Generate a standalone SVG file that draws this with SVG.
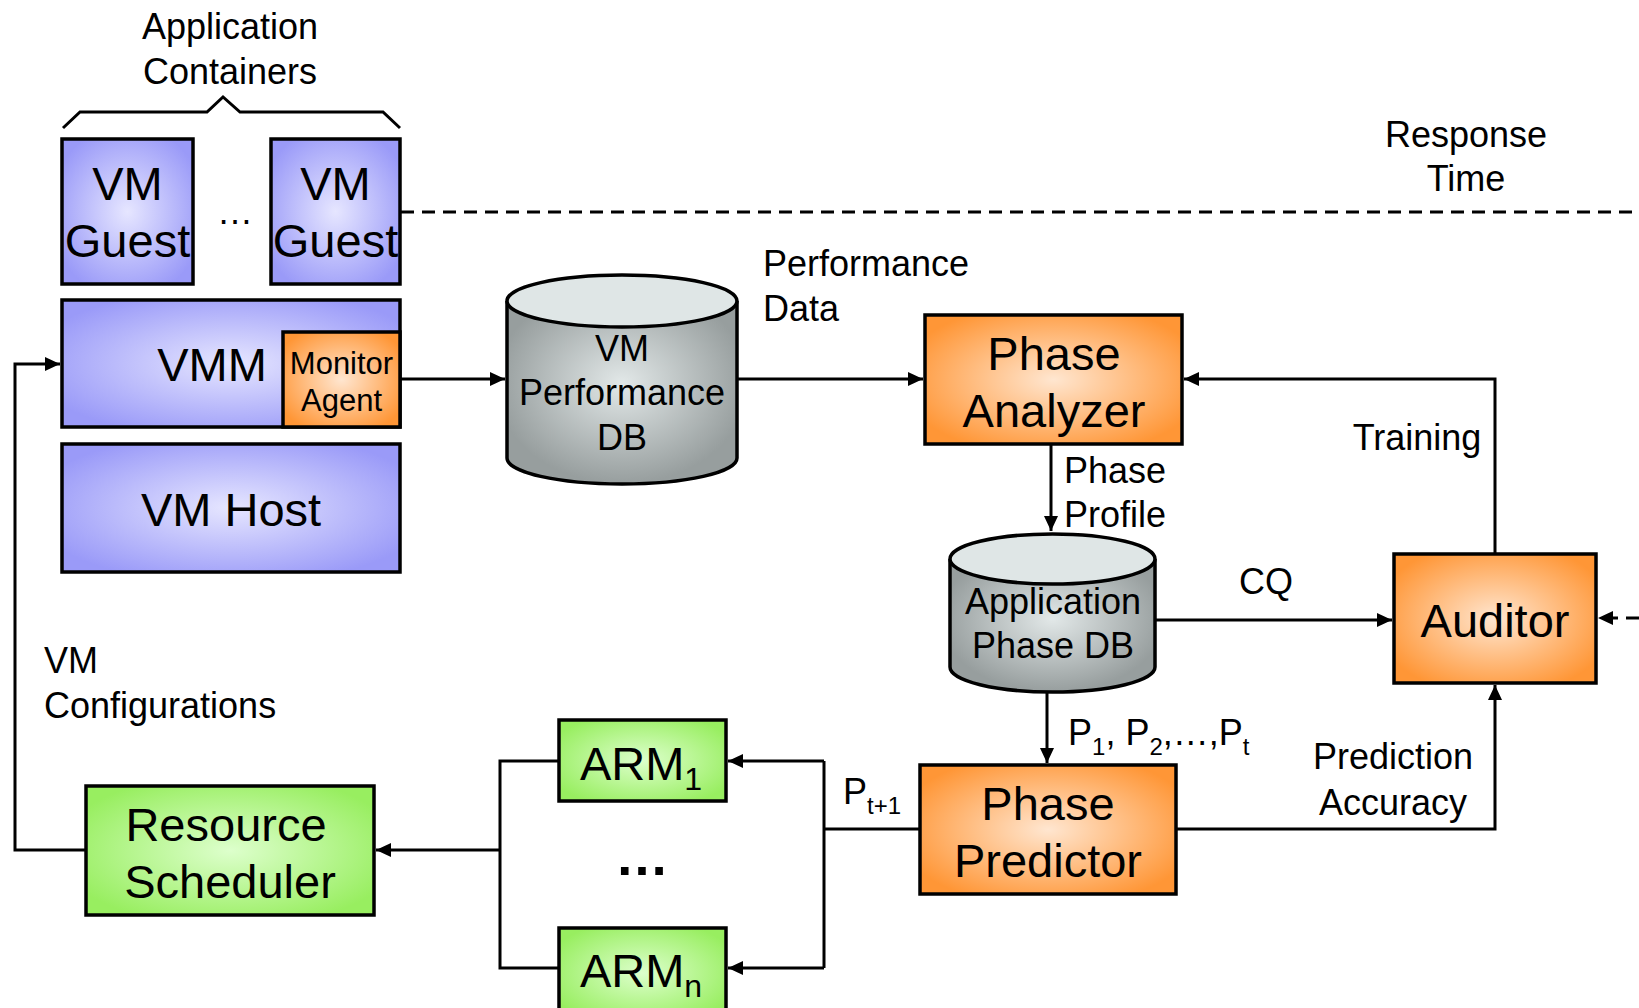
<svg xmlns="http://www.w3.org/2000/svg" width="1639" height="1008" viewBox="0 0 1639 1008">
<style>
text{font-family:"Liberation Sans",Arial,sans-serif;fill:#000}
.n{font-size:47px;text-anchor:middle}
.l{font-size:36px}
.c{text-anchor:middle}
.box{stroke:#000;stroke-width:3.5}
.blue{fill:url(#gb)}
.org{fill:url(#go)}
.grn{fill:url(#gg)}
.cyl{fill:url(#gc);stroke:#000;stroke-width:3.5}
.top{fill:#dfe6e6;stroke:#000;stroke-width:3.5}
.w{fill:none;stroke:#000;stroke-width:3}
.a{marker-end:url(#ah)}
.d{fill:none;stroke:#000;stroke-width:3;stroke-dasharray:13 8}
</style>
<defs>
<radialGradient id="gb" cx="50%" cy="50%" r="60%"><stop offset="0" stop-color="#e6e6ff"/><stop offset="1" stop-color="#9a9af8"/></radialGradient>
<radialGradient id="go" cx="50%" cy="50%" r="60%"><stop offset="0" stop-color="#ffe6d0"/><stop offset="1" stop-color="#ff9636"/></radialGradient>
<radialGradient id="gg" cx="50%" cy="50%" r="60%"><stop offset="0" stop-color="#ddffcc"/><stop offset="1" stop-color="#98ee60"/></radialGradient>
<radialGradient id="gc" cx="50%" cy="45%" r="55%"><stop offset="0" stop-color="#e2e8e8"/><stop offset="1" stop-color="#979e9e"/></radialGradient>
<marker id="ah" markerUnits="userSpaceOnUse" markerWidth="16" markerHeight="14" refX="15" refY="7" orient="auto"><path d="M0,0 L15,7 L0,14 z" fill="#000"/></marker>
</defs>

<g id="connectors">
<path class="w a" d="M86,850 H15 V364 H60"/>
<path class="w a" d="M400,379 H505"/>
<path class="w a" d="M737,379 H923"/>
<path class="w a" d="M1495,554 V379 H1184"/>
<path class="w a" d="M1051,444 V531"/>
<path class="w a" d="M1155,620 H1392"/>
<path class="w a" d="M1047,692 V763"/>
<path class="w a" d="M1176,829 H1495 V685"/>
<path class="w" d="M920,829 H824 M824,761 V968"/>
<path class="w a" d="M824,761 H728"/>
<path class="w a" d="M824,968 H728"/>
<path class="w" d="M559,761 H500 V968 H559"/>
<path class="w a" d="M500,850 H376"/>
<path class="d" d="M401,212 H1639"/>
<path class="d a" d="M1639,618 H1598"/>
</g>

<g id="app-containers">
<path d="M63,128 L80,112 H207 L223,97 L240,112 H383 L400,128" fill="none" stroke="#000" stroke-width="3"/>
<text class="l c" x="230" y="39">Application</text>
<text class="l c" x="230" y="84">Containers</text>
<text class="l c" x="235" y="224">…</text>
</g>

<g id="vm-guest-1">
<rect class="box blue" x="62" y="139" width="131" height="145"/>
<text class="n" x="127.5" y="200">VM</text>
<text class="n" x="127.5" y="257">Guest</text>
</g>
<g id="vm-guest-2">
<rect class="box blue" x="271" y="139" width="129" height="145"/>
<text class="n" x="335.5" y="200">VM</text>
<text class="n" x="335.5" y="257">Guest</text>
</g>

<g id="vmm">
<rect class="box blue" x="62" y="300" width="338" height="127"/>
<text class="n" x="212" y="381">VMM</text>
</g>
<g id="monitor-agent">
<rect class="box org" x="283" y="332" width="117" height="95"/>
<text class="c" x="341.5" y="374" style="font-size:31px">Monitor</text>
<text class="c" x="341.5" y="411" style="font-size:31px">Agent</text>
</g>
<g id="vm-host">
<rect class="box blue" x="62" y="444" width="338" height="128"/>
<text class="n" x="231" y="526">VM Host</text>
</g>

<g id="vm-perf-db">
<path class="cyl" d="M507,301 V458 A115,26 0 0 0 737,458 V301"/>
<ellipse class="top" cx="622" cy="301" rx="115" ry="26"/>
<text class="l c" x="622" y="361">VM</text>
<text class="l c" x="622" y="405">Performance</text>
<text class="l c" x="622" y="450">DB</text>
</g>

<g id="perf-data-label">
<text class="l" x="763" y="276">Performance</text>
<text class="l" x="763" y="321">Data</text>
</g>
<g id="response-time-label">
<text class="l c" x="1466" y="147">Response</text>
<text class="l c" x="1466" y="191">Time</text>
</g>

<g id="phase-analyzer">
<rect class="box org" x="925" y="315" width="257" height="129"/>
<text class="n" x="1054" y="370">Phase</text>
<text class="n" x="1054" y="427">Analyzer</text>
</g>
<text class="l c" x="1417" y="450">Training</text>
<text class="l" x="1064" y="483">Phase</text>
<text class="l" x="1064" y="527">Profile</text>

<g id="app-phase-db">
<path class="cyl" d="M950,559 V667 A102.5,25 0 0 0 1155,667 V559"/>
<ellipse class="top" cx="1052.5" cy="559" rx="102.5" ry="25"/>
<text class="l c" x="1053" y="614">Application</text>
<text class="l c" x="1053" y="658">Phase DB</text>
</g>
<text class="l c" x="1266" y="594">CQ</text>

<g id="auditor">
<rect class="box org" x="1394" y="554" width="202" height="129"/>
<text class="n" x="1495" y="637">Auditor</text>
</g>

<text class="l" x="1068" y="745">P<tspan font-size="24" dy="10">1</tspan><tspan dy="-10">, P</tspan><tspan font-size="24" dy="10">2</tspan><tspan dy="-10">,…,P</tspan><tspan font-size="24" dy="10">t</tspan></text>

<g id="phase-predictor">
<rect class="box org" x="920" y="765" width="256" height="129"/>
<text class="n" x="1048" y="820">Phase</text>
<text class="n" x="1048" y="877">Predictor</text>
</g>
<text class="l c" x="1393" y="769">Prediction</text>
<text class="l c" x="1393" y="815">Accuracy</text>
<text class="l" x="843" y="804">P<tspan font-size="24" dy="10">t+1</tspan></text>

<g id="arm-1">
<rect class="box grn" x="559" y="720" width="167" height="81"/>
<text class="n" x="641" y="780">ARM<tspan font-size="32" dy="10">1</tspan></text>
</g>
<text class="c" x="642" y="875" style="font-size:54px;font-weight:bold">…</text>
<g id="arm-n">
<rect class="box grn" x="559" y="928" width="167" height="90"/>
<text class="n" x="641" y="987">ARM<tspan font-size="32" dy="10">n</tspan></text>
</g>

<g id="resource-scheduler">
<rect class="box grn" x="86" y="786" width="288" height="129"/>
<text class="n" x="226" y="841">Resource</text>
<text class="n" x="230" y="898">Scheduler</text>
</g>

<text class="l" x="44" y="673">VM</text>
<text class="l" x="44" y="718">Configurations</text>
</svg>
